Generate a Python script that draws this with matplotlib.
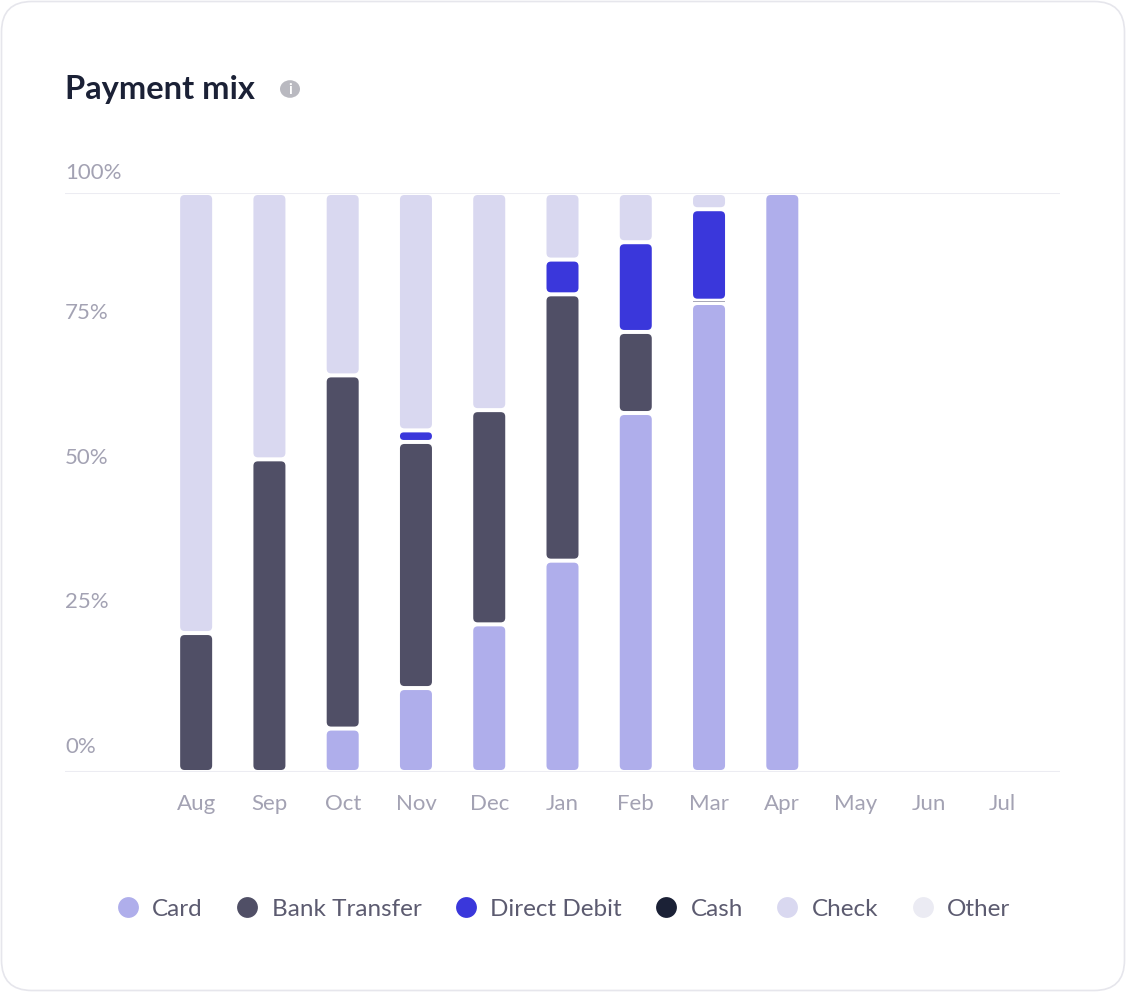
import matplotlib
matplotlib.use('Agg')
import matplotlib.pyplot as plt
from matplotlib.patches import FancyBboxPatch, Circle
from matplotlib.lines import Line2D
import matplotlib.transforms as mtransforms

plt.rcParams['font.family'] = ['Lato', 'DejaVu Sans']

months = ['Aug', 'Sep', 'Oct', 'Nov', 'Dec', 'Jan', 'Feb', 'Mar', 'Apr', 'May', 'Jun', 'Jul']
methods = ['Card', 'Bank Transfer', 'Direct Debit', 'Cash', 'Check', 'Other']
colors = ['#AFAEEB', '#504F66', '#3A37DB', '#1B2136', '#D9D8F0', '#EBEBF3']

card = [0, 0, 7.5, 14.5, 25.5, 36.5, 62, 81, 100, 0, 0, 0]
bank = [24, 54, 61, 42.5, 37, 46, 14, 0.4, 0, 0, 0, 0]
direct_debit = [0, 0, 0, 2, 0, 6, 15.5, 15.8, 0, 0, 0, 0]
cash = [0, 0, 0, 0, 0, 0, 0, 0, 0, 0, 0, 0]
check = [76, 46, 31.5, 41, 37.5, 11.5, 8.5, 2.8, 0, 0, 0, 0]
other = [0, 0, 0, 0, 0, 0, 0, 0, 0, 0, 0, 0]
series = [card, bank, direct_debit, cash, check, other]

yticks = [0, 25, 50, 75, 100]

W, H = 1126, 992
fig = plt.figure(figsize=(W / 100, H / 100), dpi=100)
fig.patch.set_facecolor('white')

# card background
bg = FancyBboxPatch((1.5 / W, 1.5 / H), 1 - 3 / W, 1 - 3 / H,
                    boxstyle='round,pad=0,rounding_size=0.027',
                    mutation_aspect=W / H,
                    transform=fig.transFigure, facecolor='white',
                    edgecolor='#E6E6EC', linewidth=1.2, zorder=-5)
fig.patches.append(bg)

ax = fig.add_axes([65 / W, (H - 772) / H, 995 / W, 579 / H])
ax.set_zorder(2)
ax.patch.set_alpha(0)
ax.set_xlim(-1.79, 11.79)
ax.set_ylim(0, 100)
ax.axis('off')

px_x = 995 / (11.79 + 1.79)      # pixels per x unit
px_y = 579 / 100                  # pixels per y unit
gap = 2.0 / px_y                  # half gap between segments
bar_w = 32 / px_x
rad = 4.5 / px_x

for y in (0, 100):
    ax.axhline(y, color='#ECECF2', linewidth=1.5, zorder=0)

for i, m in enumerate(months):
    bottom = 0
    for vals, col in zip(series, colors):
        v = vals[i]
        if v <= 0:
            continue
        y0 = bottom + gap
        h = v - 2 * gap
        if h < 1.0 / px_y:
            y0 = bottom + v / 2 - 0.5 / px_y
            h = 1.0 / px_y
            patch = FancyBboxPatch((i - bar_w / 2, y0), bar_w, h,
                                   boxstyle='square,pad=0',
                                   facecolor='#A8A8B8', edgecolor='none', zorder=2)
        else:
            r = min(rad, h * px_y / px_x / 2)
            patch = FancyBboxPatch((i - bar_w / 2, y0), bar_w, h,
                                   boxstyle='round,pad=0,rounding_size=%f' % r,
                                   mutation_aspect=px_x / px_y,
                                   facecolor=col, edgecolor='none', zorder=2)
        ax.add_patch(patch)
        bottom += v

# y labels sit above their value
for t in yticks:
    off = 20 if t == 100 else 25
    tr = mtransforms.offset_copy(ax.transData, fig=fig, x=0, y=off, units='dots')
    ax.text(-1.79, t, '%d%%' % t, transform=tr, ha='left', va='center',
            fontsize=16, color='#A3A2B3')

xlab = mtransforms.offset_copy(ax.transData, fig=fig, x=0, y=-32, units='dots')
for i, m in enumerate(months):
    ax.text(i, 0, m, transform=xlab, ha='center', va='center',
            fontsize=16, color='#A3A2B3')

# title and info icon
fig.text(65 / W, 1 - 89 / H, 'Payment mix', fontsize=23.5, fontweight='bold',
         color='#1B2136', ha='left', va='center')
fig.patches.append(Circle((290 / W, 1 - 89 / H), 10 / W, transform=fig.transFigure,
                          facecolor='#B9B9C0', edgecolor='none'))
fig.text(290 / W, 1 - 89.5 / H, 'i', fontsize=10.5, fontweight='bold', color='white',
         ha='center', va='center')

# legend
handles = [Line2D([0], [0], marker='o', linestyle='none', markersize=15,
                  markerfacecolor=c, markeredgecolor='none') for c in colors]
fig.legend(handles, methods, loc='center', bbox_to_anchor=(0.500, 1 - 909 / H),
           ncol=6, frameon=False, fontsize=17.5, handletextpad=0.5,
           columnspacing=1.33, labelcolor='#5C5B70', handlelength=1.0)

fig.savefig('out.png', dpi=100, facecolor='white')
